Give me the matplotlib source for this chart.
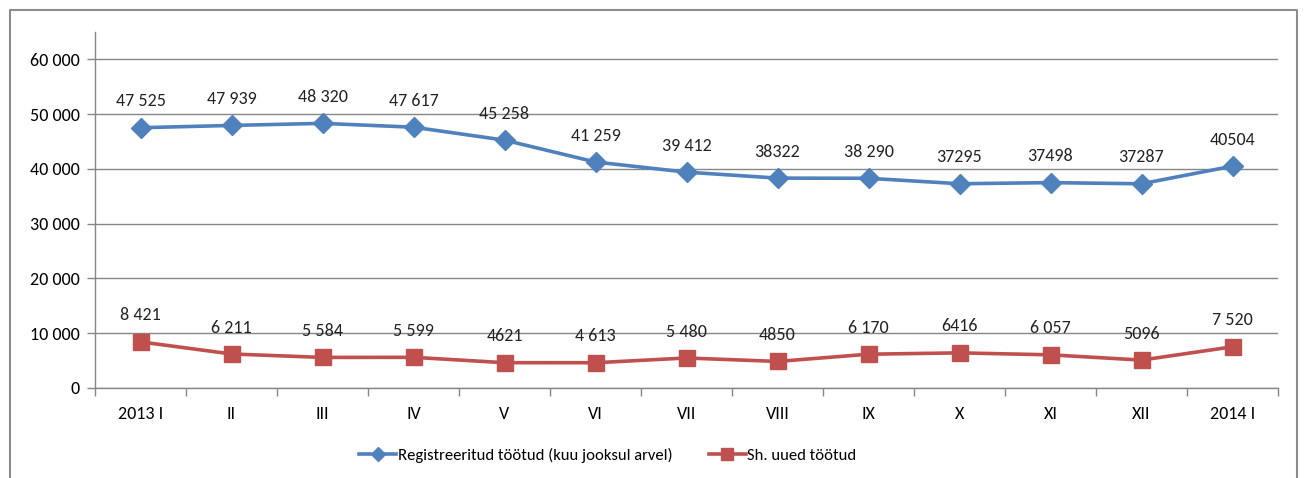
import matplotlib
matplotlib.use("Agg")
import matplotlib.pyplot as plt
from matplotlib.lines import Line2D
from matplotlib.ticker import FuncFormatter

plt.rcParams["font.family"] = ["Carlito", "Lato", "DejaVu Sans"]

months = ["2013 I", "II", "III", "IV", "V", "VI", "VII", "VIII", "IX", "X",
          "XI", "XII", "2014 I"]
registered = [47525, 47939, 48320, 47617, 45258, 41259, 39412, 38322, 38290,
              37295, 37498, 37287, 40504]
registered_labels = ["47 525", "47 939", "48 320", "47 617", "45 258", "41 259",
                     "39 412", "38322", "38 290", "37295", "37498", "37287",
                     "40504"]
new_ones = [8421, 6211, 5584, 5599, 4621, 4613, 5480, 4850, 6170, 6416, 6057,
            5096, 7520]
new_labels = ["8 421", "6 211", "5 584", "5 599", "4621", "4 613", "5 480",
              "4850", "6 170", "6416", "6 057", "5096", "7 520"]

BLUE, RED, GRID = "#4F81BD", "#C0504D", "#868686"

W, H = 1306, 478
fig = plt.figure(figsize=(W / 100, H / 100), dpi=100)
ax = fig.add_axes([95 / W, 1 - 388 / H, (1278 - 95) / W, (388 - 32) / H])

x = list(range(len(months)))
ax.plot(x, registered, color=BLUE, lw=2.6, marker="D", ms=10,
        label="Registreeritud töötud (kuu jooksul arvel)")
ax.plot(x, new_ones, color=RED, lw=2.6, marker="s", ms=11,
        label="Sh. uued töötud")

for xi, v, s in zip(x, registered, registered_labels):
    ax.annotate(s, (xi, v), xytext=(0, 19), textcoords="offset points",
                ha="center", va="center", fontsize=13, color="#222222")
for xi, v, s in zip(x, new_ones, new_labels):
    ax.annotate(s, (xi, v), xytext=(0, 19), textcoords="offset points",
                ha="center", va="center", fontsize=13, color="#222222")

ax.set_xlim(-0.5, len(months) - 0.5)
ax.set_ylim(0, 65000)
ax.set_yticks(range(0, 60001, 10000))
ax.yaxis.set_major_formatter(
    FuncFormatter(lambda v, _: f"{int(v):,}".replace(",", " ")))
ax.set_xticks(x)
ax.set_xticklabels(months)
ax.set_xticks([i - 0.5 for i in range(len(months) + 1)], minor=True)
ax.tick_params(axis="x", which="major", length=0, pad=13, labelsize=13)
ax.tick_params(axis="x", which="minor", length=6, color=GRID, width=1)
ax.tick_params(axis="y", length=6, color=GRID, width=1, labelsize=13,
               pad=5)
ax.grid(axis="y", color=GRID, lw=1)
ax.set_axisbelow(True)
for s in ("top", "right"):
    ax.spines[s].set_visible(False)
for s in ("left", "bottom"):
    ax.spines[s].set_color(GRID)
    ax.spines[s].set_linewidth(1)

ax.legend(loc="center", bbox_to_anchor=(608 / W, 1 - 455 / H),
          bbox_transform=fig.transFigure, ncol=2, frameon=False,
          fontsize=12, handlelength=2.2, columnspacing=2.2, handletextpad=0.1,
          markerscale=0.75)

# outer chart frame (bottom edge cut off in the reference)
fx = [10 / W, 10 / W, 1297 / W, 1297 / W]
fy = [0, 1 - 10 / H, 1 - 10 / H, 0]
fig.add_artist(Line2D(fx, fy, transform=fig.transFigure, color="#8C8C8C",
                      lw=1.5))

fig.savefig("out.png", dpi=100)
